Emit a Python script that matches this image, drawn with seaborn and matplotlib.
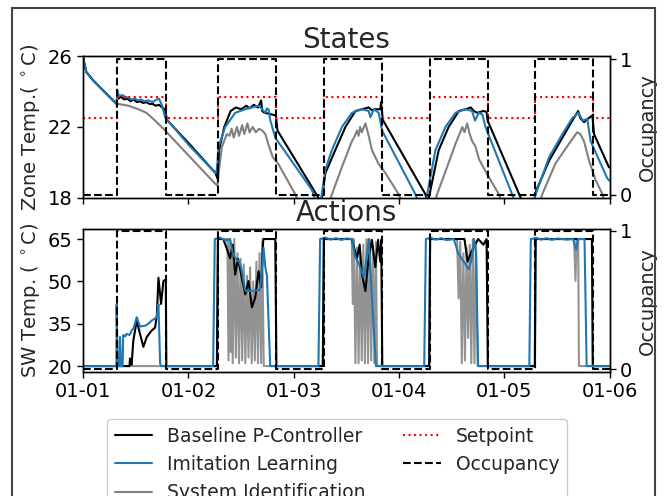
import matplotlib
matplotlib.use("Agg")
import matplotlib.pyplot as plt
import seaborn as sns
from matplotlib.lines import Line2D
from matplotlib.patches import Rectangle

# ---------------- data (time in days since 01-01) ----------------
tick_labels = ["01-01", "01-02", "01-03", "01-04", "01-05", "01-06"]
tick_pos = [0, 1, 2, 3, 4, 5]

occ_t = [0.0, 0.322, 0.786, 1.282, 1.835, 2.286, 2.834, 3.294, 3.842, 4.294, 4.838, 5.0]
occ_v = [0, 1, 0, 1, 0, 1, 0, 1, 0, 1, 0, 0]
setpoint_v = [22.5, 23.7, 22.5, 23.7, 22.5, 23.7, 22.5, 23.7, 22.5, 23.7, 22.5, 22.5]

# Zone temperature
base_zone_t = [0.000, 0.030, 0.100, 0.200, 0.318, 0.326, 0.335, 0.36, 0.39, 0.42, 0.45, 0.48, 0.51, 0.54,
               0.57, 0.60, 0.63, 0.66, 0.69, 0.72, 0.75, 0.775, 0.785, 0.795, 1.000, 1.257, 1.275, 1.29,
               1.34, 1.40, 1.45, 1.50, 1.55, 1.58, 1.62, 1.66, 1.69, 1.70, 1.72, 1.76, 1.83, 1.845, 2.235,
               2.25, 2.262, 2.30, 2.394, 2.49, 2.585, 2.647, 2.711, 2.74, 2.775, 2.822, 2.828, 2.845, 3.25,
               3.265, 3.275, 3.376, 3.47, 3.567, 3.63, 3.68, 3.71, 3.74, 3.80, 3.83, 3.84, 4.14, 4.17, 4.28,
               4.30, 4.424, 4.55, 4.644, 4.70, 4.72, 4.755, 4.80, 4.835, 4.85, 4.99, 5.0]
base_zone_v = [25.90, 25.10, 24.60, 24.00, 23.30, 24.00, 23.60, 23.70, 23.55, 23.60, 23.45, 23.55, 23.40, 23.45,
               23.35, 23.40, 23.30, 23.30, 23.20, 23.25, 23.10, 23.00, 22.80, 22.40, 21.10, 19.40, 19.10, 20.70,
               22.00, 22.90, 23.10, 23.00, 23.20, 23.05, 23.25, 23.10, 23.50, 22.90, 22.80, 22.75, 22.65, 21.80, 18.00,
               17.80, 17.80, 19.40, 20.70, 22.00, 22.90, 23.00, 23.10, 22.95, 23.00, 23.00, 23.40, 22.40, 18.20,
               17.80, 17.80, 20.70, 22.00, 22.90, 23.00, 23.10, 22.90, 22.80, 22.90, 22.85, 22.36, 18.20, 17.80, 17.80,
               18.40, 20.10, 21.40, 22.36, 22.90, 22.50, 22.27, 22.50, 22.65, 21.60, 19.75, 19.70]

imit_zone_t = [0.000, 0.030, 0.100, 0.200, 0.318, 0.326, 0.34, 0.37, 0.40, 0.43, 0.46, 0.49, 0.52, 0.55, 0.58,
               0.62, 0.66, 0.70, 0.72, 0.75, 0.778, 1.000, 1.257, 1.27, 1.286, 1.349, 1.444, 1.539, 1.60, 1.665,
               1.70, 1.729, 1.745, 1.76, 1.776, 1.824, 2.172, 2.21, 2.255, 2.30, 2.362, 2.457, 2.552, 2.647,
               2.711, 2.727, 2.76, 2.806, 2.838, 3.155, 3.18, 3.255, 3.266, 3.345, 3.44, 3.535, 3.63, 3.693,
               3.72, 3.757, 3.79, 3.82, 4.073, 4.10, 4.28, 4.296, 4.424, 4.55, 4.644, 4.70, 4.745, 4.786,
               4.818, 4.976, 5.0]
imit_zone_v = [25.90, 25.10, 24.60, 24.00, 23.30, 24.05, 23.75, 23.80, 23.70, 23.65, 23.55, 23.60, 23.50, 23.55, 23.45,
               23.50, 23.40, 23.55, 23.60, 23.20, 22.55, 21.00, 19.40, 19.60, 20.90, 22.00, 22.80, 23.00, 23.10, 23.20,
               23.00, 22.80, 23.05, 23.00, 22.40, 21.40, 18.45, 17.80, 17.80, 19.60, 20.70, 22.00, 22.80, 23.00,
               22.90, 22.55, 23.00, 22.80, 21.80, 18.20, 17.80, 17.80, 18.20, 20.70, 22.00, 22.80, 23.00, 22.90,
               22.36, 22.80, 22.70, 22.00, 18.20, 17.80, 17.80, 18.20, 20.30, 21.60, 22.50, 22.80, 22.36, 22.46,
               21.20, 19.10, 18.95]

sysid_zone_t = [0.000, 0.030, 0.100, 0.200, 0.318, 0.335, 0.43, 0.525, 0.60, 0.683, 0.762, 1.000, 1.254, 1.275,
                1.29, 1.317, 1.364, 1.39, 1.41, 1.43, 1.46, 1.48, 1.51, 1.53, 1.56, 1.58, 1.61, 1.64, 1.67, 1.70,
                1.73, 1.76, 1.80, 1.855, 2.014, 2.04, 2.34, 2.362, 2.457, 2.552, 2.58, 2.60, 2.615, 2.63, 2.645,
                2.68, 2.711, 2.742, 2.806, 2.87, 2.996, 3.02, 3.34, 3.36, 3.456, 3.535, 3.58, 3.60, 3.62, 3.646,
                3.665, 3.693, 3.725, 3.757, 3.82, 3.947, 3.97, 4.34, 4.358, 4.485, 4.612, 4.69, 4.72, 4.755,
                4.803, 4.866, 4.93, 4.95, 5.0]
sysid_zone_v = [25.90, 25.10, 24.60, 24.00, 23.30, 23.30, 23.20, 23.00, 22.80, 22.36, 21.90, 20.40, 18.80, 18.70,
                19.60, 20.87, 21.60, 21.50, 21.90, 21.40, 22.00, 21.50, 22.10, 21.60, 22.20, 21.70, 22.00, 21.70, 21.90, 21.80,
                21.60, 21.00, 20.30, 19.90, 18.20, 17.80, 17.80, 18.20, 19.75, 21.20, 21.50, 21.80, 21.50, 22.00, 21.70,
                22.20, 21.50, 20.70, 19.90, 19.40, 18.20, 17.80, 17.80, 18.20, 19.75, 21.05, 21.70, 22.00, 21.70, 22.20,
                21.70, 21.20, 20.90, 20.20, 19.50, 18.20, 17.80, 17.80, 18.20, 19.95, 21.05, 21.70, 21.60, 21.20,
                20.10, 19.00, 18.20, 17.80, 17.80]

# Supply water temperature
base_sw_t = [0.0, 0.32, 0.33, 0.34, 0.44, 0.445, 0.46, 0.477, 0.509, 0.54, 0.572, 0.604, 0.651, 0.683, 0.70,
             0.715, 0.74, 0.762, 0.785, 0.79, 1.27, 1.28, 1.33, 1.36, 1.395, 1.42, 1.444, 1.47, 1.507, 1.539,
             1.57, 1.602, 1.634, 1.665, 1.69, 1.71, 1.824, 1.835, 2.275, 2.285, 2.55, 2.60, 2.625, 2.647, 2.68,
             2.71, 2.742, 2.774, 2.80, 2.82, 2.83, 2.84, 3.285, 3.294, 3.62, 3.65, 3.68, 3.72, 3.75, 3.80, 3.83,
             3.842, 4.288, 4.296, 4.83, 4.838, 5.0]
base_sw_v = [20.0, 20.0, 21.5, 20.0, 20.0, 22.7, 20.5, 29.1, 36.1, 31.4, 26.8, 30.3, 32.6, 33.6, 38.0,
             51.3, 42.0, 50.1, 50.7, 20.0, 20.0, 65.0, 65.0, 62.0, 58.2, 63.0, 52.4, 58.0, 51.2, 45.4,
             50.1, 40.8, 44.3, 53.6, 48.0, 65.0, 65.0, 20.0, 20.0, 65.0, 65.0, 58.2, 63.0, 52.4, 46.6,
             58.2, 64.7, 55.0, 64.7, 57.0, 64.7, 20.0, 20.0, 65.0, 65.0, 57.0, 60.0, 63.0, 65.0, 63.0, 65.0,
             20.0, 20.0, 65.0, 65.0, 20.0, 20.0]

imit_sw_t = [0.0, 0.316, 0.318, 0.328, 0.345, 0.35, 0.36, 0.375, 0.38, 0.40, 0.413, 0.44, 0.461, 0.48, 0.509,
             0.54, 0.588, 0.62, 0.651, 0.699, 0.715, 0.731, 0.74, 1.234, 1.25, 1.30, 1.35, 1.396, 1.42, 1.45,
             1.48, 1.50, 1.539, 1.60, 1.68, 1.70, 1.713, 1.73, 1.745, 1.776, 2.234, 2.25, 2.30, 2.35, 2.40,
             2.45, 2.50, 2.553, 2.58, 2.62, 2.664, 2.69, 2.711, 2.73, 2.78, 3.238, 3.254, 3.30, 3.35, 3.40,
             3.45, 3.519, 3.56, 3.60, 3.662, 3.69, 3.71, 3.73, 3.75, 4.236, 4.25, 4.30, 4.35, 4.40, 4.45, 4.50,
             4.55, 4.60, 4.65, 4.68, 4.70, 4.76, 4.78, 5.0]
imit_sw_v = [20.0, 20.0, 41.9, 20.0, 20.0, 30.3, 20.0, 20.0, 31.0, 30.5, 31.4, 31.0, 32.6, 33.5, 37.3,
             34.0, 34.3, 35.0, 36.1, 37.3, 41.9, 20.9, 20.0, 20.0, 65.0, 65.5, 64.5, 65.0, 60.0, 58.0,
             57.0, 55.0, 46.7, 46.6, 47.0, 55.0, 61.9, 55.0, 52.0, 20.0, 20.0, 65.0, 65.5, 64.8, 65.3,
             64.7, 65.2, 65.0, 59.0, 56.0, 51.4, 58.0, 65.0, 52.0, 20.0, 20.0, 65.0, 65.4, 64.8, 65.3,
             64.6, 65.0, 60.0, 57.7, 54.3, 58.0, 65.0, 60.0, 20.0, 20.0, 65.0, 65.4, 64.8, 65.3, 64.7, 65.2,
             65.0, 64.8, 65.1, 61.3, 65.0, 65.0, 20.0, 20.0]

sysid_sw_t = [0.0, 1.27, 1.28, 1.37, 1.38, 1.39, 1.40, 1.41, 1.42, 1.435, 1.45, 1.465, 1.48, 1.495, 1.51,
              1.525, 1.54, 1.555, 1.57, 1.585, 1.60, 1.615, 1.63, 1.645, 1.66, 1.675, 1.69, 1.70, 1.715,
              2.28, 2.286, 2.55, 2.56, 2.57, 2.585, 2.60, 2.615, 2.63, 2.645, 2.66, 2.675, 2.69, 2.705, 2.72,
              2.735, 2.75, 2.765, 2.78, 2.79, 3.285, 3.294, 3.55, 3.565, 3.58, 3.595, 3.61, 3.625, 3.64, 3.655,
              3.67, 3.685, 3.70, 3.715, 3.73, 3.745, 4.29, 4.296, 4.66, 4.674, 4.685, 4.70, 4.707, 5.0]
sysid_sw_v = [20.0, 20.0, 65.0, 65.0, 22.0, 65.0, 25.0, 62.0, 21.0, 65.0, 23.0, 60.0, 21.0, 58.0, 22.0,
              56.0, 21.0, 52.0, 23.0, 55.0, 21.0, 50.0, 22.0, 57.0, 21.0, 60.0, 21.0, 64.0, 20.0,
              20.0, 65.0, 65.0, 42.0, 65.0, 21.0, 62.0, 21.0, 60.0, 22.0, 63.0, 21.0, 65.0, 21.0, 65.0,
              22.0, 63.0, 21.0, 64.0, 20.0, 20.0, 65.0, 65.0, 44.0, 64.0, 21.0, 60.0, 22.0, 62.0, 30.0,
              63.0, 21.0, 65.0, 21.0, 64.0, 20.0, 20.0, 65.0, 65.0, 50.2, 65.0, 65.0, 20.0, 20.0]

# ---------------- style ----------------
sns.set_theme(style="ticks", context="notebook")
plt.rcParams["font.family"] = ["DejaVu Sans"]
plt.rcParams["axes.edgecolor"] = "black"
plt.rcParams["axes.linewidth"] = 1.0
plt.rcParams["xtick.color"] = "black"
plt.rcParams["ytick.color"] = "black"
plt.rcParams["mathtext.fontset"] = "dejavusans"

C_BASE = "black"
C_IMIT = "#1f77b4"
C_SYS = "grey"
LW = 1.5
FS = 14

fig = plt.figure(figsize=(6.65, 4.96), dpi=100)
ax1 = fig.add_axes([0.125, 0.601, 0.792, 0.286])
ax2 = fig.add_axes([0.125, 0.250, 0.792, 0.288])


def draw(ax, t, v, color, **kw):
    sns.lineplot(x=t, y=v, ax=ax, color=color, lw=LW, estimator=None, sort=False, legend=False, **kw)


# States panel
draw(ax1, sysid_zone_t, sysid_zone_v, C_SYS)
draw(ax1, base_zone_t, base_zone_v, C_BASE)
draw(ax1, imit_zone_t, imit_zone_v, C_IMIT)
sns.lineplot(x=occ_t, y=setpoint_v, ax=ax1, color="red", lw=LW, ls=":", drawstyle="steps-post",
             estimator=None, sort=False, legend=False)
ax1.set_ylim(18, 26)
ax1.set_yticks([18, 22, 26])
ax1.set_xlim(0, 5)
ax1.set_xticks(tick_pos)
ax1.set_xticklabels([])
ax1.set_ylabel(r"Zone Temp.( $^\circ$C)", fontsize=FS)
ax1.set_title("States", fontsize=20)
ax1.tick_params(labelsize=FS, length=4, width=1)

ax1r = ax1.twinx()
sns.lineplot(x=occ_t, y=occ_v, ax=ax1r, color="black", lw=LW, ls="--", drawstyle="steps-post",
             estimator=None, sort=False, legend=False)
ax1r.set_ylim(-0.025, 1.025)
ax1r.set_yticks([0, 1])
ax1r.set_ylabel("Occupancy", fontsize=FS)
ax1r.tick_params(labelsize=FS, length=4, width=1)

# Actions panel
draw(ax2, sysid_sw_t, sysid_sw_v, C_SYS, alpha=0.85)
draw(ax2, base_sw_t, base_sw_v, C_BASE)
draw(ax2, imit_sw_t, imit_sw_v, C_IMIT)
ax2.set_ylim(17.9, 68.5)
ax2.set_yticks([20, 35, 50, 65])
ax2.set_xlim(0, 5)
ax2.set_xticks(tick_pos)
ax2.set_xticklabels(tick_labels)
ax2.set_ylabel(r"SW Temp. ( $^\circ$C)", fontsize=FS)
ax2.set_title("Actions", fontsize=20)
ax2.tick_params(labelsize=FS, length=4, width=1)

ax2r = ax2.twinx()
sns.lineplot(x=occ_t, y=occ_v, ax=ax2r, color="black", lw=LW, ls="--", drawstyle="steps-post",
             estimator=None, sort=False, legend=False)
ax2r.set_ylim(-0.02, 1.01)
ax2r.set_yticks([0, 1])
ax2r.set_ylabel("Occupancy", fontsize=FS)
ax2r.tick_params(labelsize=FS, length=4, width=1)

for a in (ax1, ax2, ax1r, ax2r):
    a.set_xlabel("")

# Legend (two columns: three methods left, setpoint/occupancy right)
handles = [
    Line2D([], [], color=C_BASE, lw=LW),
    Line2D([], [], color=C_IMIT, lw=LW),
    Line2D([], [], color=C_SYS, lw=LW),
    Line2D([], [], color="red", lw=LW, ls=":"),
    Line2D([], [], color="black", lw=LW, ls="--"),
    Line2D([], [], color="none"),
]
labels = ["Baseline P-Controller", "Imitation Learning", "System Identification", "Setpoint", "Occupancy", ""]
fig.legend(handles, labels, ncol=2, loc="upper center", bbox_to_anchor=(0.507, 0.174),
           fontsize=13.5, frameon=True, edgecolor="0.8", fancybox=True, framealpha=1)

# figure frame
fig.patches.append(Rectangle((0.018, -0.1), 0.967, 1.084, transform=fig.transFigure,
                             fill=False, edgecolor="#444444", lw=1.5))

fig.savefig("out.png", dpi=100)
